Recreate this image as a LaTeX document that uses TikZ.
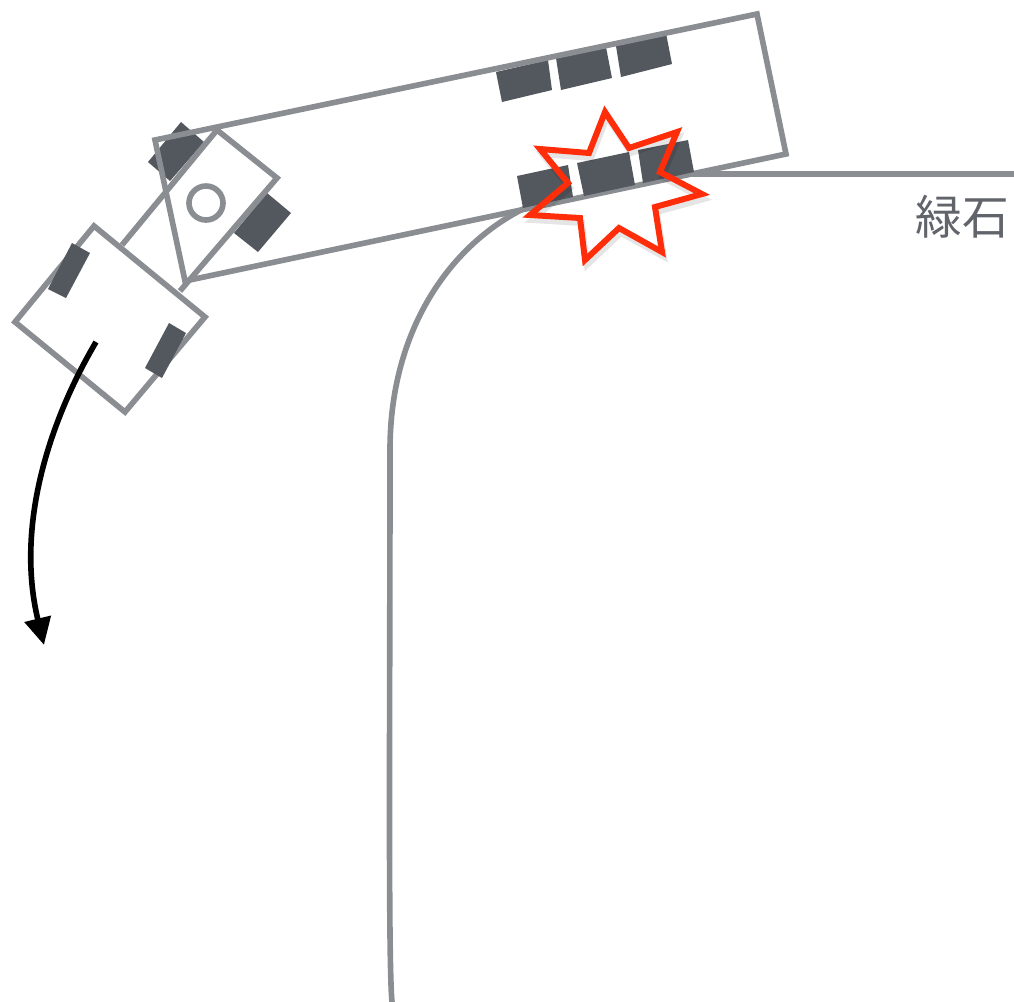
\documentclass[tikz,border=0pt]{standalone}
\usepackage{fontspec}
\newfontfamily\jpfont{Noto Sans CJK JP}
\definecolor{mygray}{HTML}{8A8D91}
\definecolor{mywheel}{HTML}{53575E}
\definecolor{myred}{HTML}{FF2D0A}
\usetikzlibrary{arrows.meta}
\tikzset{
	bodyline/.style={draw=mygray, line width=1.6pt, line join=miter}
}
\tikzset{
	wheelbox/.style={fill=mywheel}
}
\tikzset{
	starline/.style={line width=1.7pt, line join=miter}
}
\tikzset{
	curblabel/.style={font=\fontsize{13.3}{15}\jpfont\color{mywheel!92!white}, inner sep=0pt}
}

\begin{document}
\begin{tikzpicture}[x=0.01cm, y=-0.01cm]

	\useasboundingbox (0,0) rectangle (1014,1002);

	\begin{scope}
		% curb
		\draw[bodyline] (1014,174) -- (690,174);
		\draw[bodyline] (392,1002) .. controls (388,960) and (390,700) .. (390,450) .. controls (390,330) and (450,245) .. (525,208);
	\end{scope}

	\begin{scope}
		% rear wheels
		\fill[wheelbox] (181,122) -- (204,142) -- (170,181) -- (148,162) -- cycle;
		\fill[wheelbox] (267,193) -- (291,213) -- (258,252) -- (234,233) -- cycle;

		\fill[wheelbox] (496,72) -- (548,60) -- (552,90) -- (502,102) -- cycle;
		\fill[wheelbox] (556,58) -- (606,47) -- (612,78) -- (561,90) -- cycle;
		\fill[wheelbox] (616,46) -- (666,33) -- (672,64) -- (621,77) -- cycle;
	\end{scope}

	\begin{scope}
		% tractor and trailer
		\draw[bodyline] (185,281) -- (155,140) -- (757,14) -- (786,154) -- cycle;
		\draw[bodyline] (122,245) -- (217,130) -- (277,178) -- (180,291);
		\draw[bodyline] (206,203) circle (17);
		\draw[bodyline] (94,226) -- (205,317) -- (125,412) -- (15,322) -- cycle;
	\end{scope}

	\begin{scope}
		% front wheels and wheels on the curb
		\fill[wheelbox] (72,243) -- (90,253) -- (66,298) -- (48,289) -- cycle;
		\fill[wheelbox] (169,323) -- (186,333) -- (162,378) -- (145,368) -- cycle;

		\fill[wheelbox] (517,176) -- (568,165) -- (573,197) -- (523,208) -- cycle;
		\fill[wheelbox] (577,163) -- (629,152) -- (635,185) -- (584,196) -- cycle;
		\fill[wheelbox] (638,150) -- (688,140) -- (694,172) -- (643,183) -- cycle;
	\end{scope}

	\draw[line width=1.6pt, -{Triangle[length=0.27cm, width=0.26cm]}] (96,342) .. controls (50,420) and (15,525) .. (44,645);

	\begin{scope}
		% crash mark
		\draw[starline, black, opacity=0.1, shift={(2,5)}] (605,112) -- (629,148) -- (677,132) -- (660,172) -- (702,194) -- (655,207) -- (662,252) -- (619,228) -- (585,260) -- (580,218) -- (530,215) -- (568,183) -- (540,149) -- (589,153) -- cycle;
		\draw[starline, myred] (605,112) -- (629,148) -- (677,132) -- (660,172) -- (702,194) -- (655,207) -- (662,252) -- (619,228) -- (585,260) -- (580,218) -- (530,215) -- (568,183) -- (540,149) -- (589,153) -- cycle;
	\end{scope}

	\node[curblabel] (curb) at (962,217) {緑石};

\end{tikzpicture}
\end{document}
